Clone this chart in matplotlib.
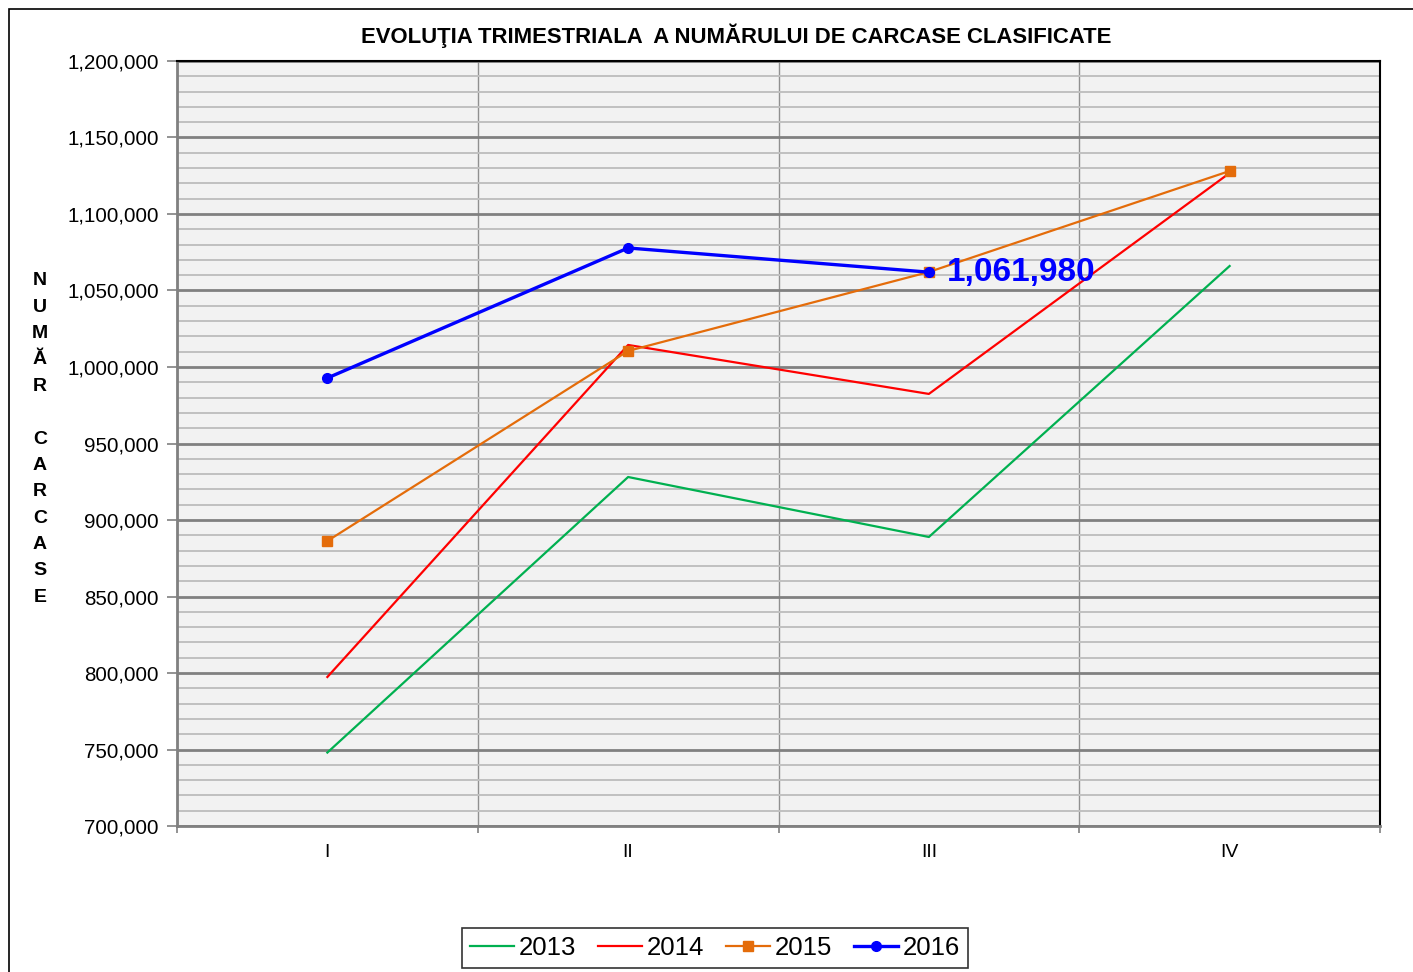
import matplotlib.pyplot as plt
from matplotlib.patches import Rectangle
from matplotlib.ticker import MultipleLocator, FuncFormatter, FixedLocator

plt.rcParams['font.family'] = ['Liberation Sans', 'DejaVu Sans']

# data
quarters = ["I", "II", "III", "IV"]
v2013 = [748000, 928100, 888900, 1066000]
v2014 = [797400, 1014400, 982400, 1126800]
v2015 = [886300, 1010500, 1062100, 1128100]
v2016 = [992800, 1077800, 1061980]
last_label = "1,061,980"

fig = plt.figure(figsize=(14.13, 9.72), dpi=100)
ax = fig.add_axes([177 / 1413, 146 / 972, 1203 / 1413, 765 / 972])
ax.set_facecolor("#f2f2f2")

# outer frame (cropped on right and bottom)
fig.patches.append(Rectangle((9 / 1413, -0.5), 2, 1.5 - 9 / 972, transform=fig.transFigure,
                             fill=False, edgecolor="black", linewidth=1.2))

x = range(len(quarters))
ax.plot(x, v2013, color="#00b050", lw=1.6, label="2013", zorder=3)
ax.plot(x, v2014, color="#ff0000", lw=1.6, label="2014", zorder=3)
ax.plot(x, v2015, color="#e46c0a", lw=1.6, marker="s", ms=7, label="2015", zorder=3)
ax.plot(range(len(v2016)), v2016, color="#0000ff", lw=2.4, marker="o", ms=7, label="2016", zorder=4)
ax.text(len(v2016) - 1 + 0.06, v2016[-1], last_label, color="#0000ff", fontsize=24,
        fontweight="bold", va="center", ha="left", zorder=5)

ax.set_xlim(-0.5, 3.5)
ax.set_ylim(700000, 1200000)
ax.set_xticks(list(x))
ax.set_xticklabels(quarters)
ax.xaxis.set_minor_locator(FixedLocator([-0.5, 0.5, 1.5, 2.5, 3.5]))
ax.tick_params(axis="x", which="major", length=0, labelsize=14, pad=13)
ax.tick_params(axis="x", which="minor", length=5, color="#808080", width=1.2)
ax.yaxis.set_major_locator(MultipleLocator(50000))
ax.yaxis.set_minor_locator(MultipleLocator(10000))
ax.yaxis.set_major_formatter(FuncFormatter(lambda v, p: f"{int(v):,}"))
ax.tick_params(axis="y", which="major", length=7, color="#808080", width=1.2, labelsize=14.8, pad=6)
ax.tick_params(axis="y", which="minor", length=0)

ax.grid(axis="y", which="major", color="#808080", lw=2.0)
ax.grid(axis="y", which="minor", color="#c0c0c0", lw=1.4)
ax.grid(axis="x", which="minor", color="#909090", lw=1.0)
ax.set_axisbelow(True)

for s in ["left", "bottom"]:
    ax.spines[s].set_color("#808080")
    ax.spines[s].set_linewidth(2.0)
for s in ["top", "right"]:
    ax.spines[s].set_color("black")
    ax.spines[s].set_linewidth(1.5)

fig.text(736 / 1413, 1 - 36 / 972, "EVOLUŢIA TRIMESTRIALA  A NUMĂRULUI DE CARCASE CLASIFICATE",
         ha="center", va="center", fontsize=15.9, fontweight="bold")

fig.text(40 / 1413, 1 - 439 / 972, "N\nU\nM\nĂ\nR\n\nC\nA\nR\nC\nA\nS\nE",
         ha="center", va="center", fontsize=14, fontweight="bold", linespacing=1.72)

leg = fig.legend(loc="center", bbox_to_anchor=(715 / 1413, 24 / 972), ncol=4, fontsize=18.5,
                 frameon=True, fancybox=False, edgecolor="black", handlelength=1.7,
                 columnspacing=0.85, handletextpad=0.2, borderpad=0.3)
leg.get_frame().set_linewidth(1.2)

fig.savefig("out.png", dpi=100)
